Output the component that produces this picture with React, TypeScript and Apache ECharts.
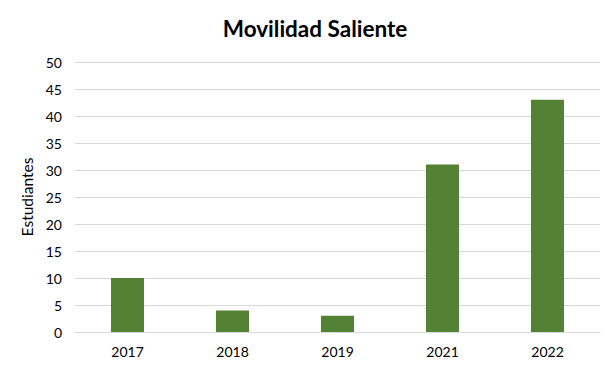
import React, { useEffect, useRef } from "react";
import * as echarts from "echarts";

const categories = ["2017", "2018", "2019", "2021", "2022"];
const values = [10, 4, 3, 31, 43];
const yTicks = { min: 0, max: 50, interval: 5 };

export default function App() {
  const ref = useRef<HTMLDivElement>(null);
  useEffect(() => {
    document.body.style.margin = "0";
    const chart = echarts.init(ref.current!, null, { renderer: "svg" });
    chart.setOption({
      animation: false,
      backgroundColor: "#ffffff",
      textStyle: { fontFamily: "Lato" },
      title: {
        text: "Movilidad Saliente",
        left: 310,
        textAlign: "center",
        top: 12,
        textStyle: { fontFamily: "Lato", fontSize: 22.5, fontWeight: "bold", color: "#000000" },
      },
      grid: { left: 75, right: 16, top: 62, bottom: 38 },
      xAxis: {
        type: "category",
        data: categories,
        axisLine: { show: true, lineStyle: { color: "#d9d9d9" } },
        axisTick: { show: false },
        axisLabel: { color: "#000000", fontSize: 14, margin: 12, fontFamily: "Lato" },
      },
      yAxis: {
        type: "value",
        min: yTicks.min,
        max: yTicks.max,
        interval: yTicks.interval,
        name: "Estudiantes",
        nameLocation: "middle",
        nameGap: 35,
        nameRotate: 90,
        nameTextStyle: { color: "#000000", fontSize: 15.5, fontFamily: "Lato" },
        axisLine: { show: false },
        axisTick: { show: false },
        axisLabel: { color: "#000000", fontSize: 14, margin: 13, fontFamily: "Lato" },
        splitLine: { lineStyle: { color: "#d9d9d9" } },
      },
      series: [
        {
          type: "bar",
          data: values,
          barWidth: "31.5%",
          itemStyle: { color: "#548235" },
        },
      ],
    });
    return () => chart.dispose();
  }, []);
  return <div ref={ref} style={{ width: 616, height: 370 }} />;
}
